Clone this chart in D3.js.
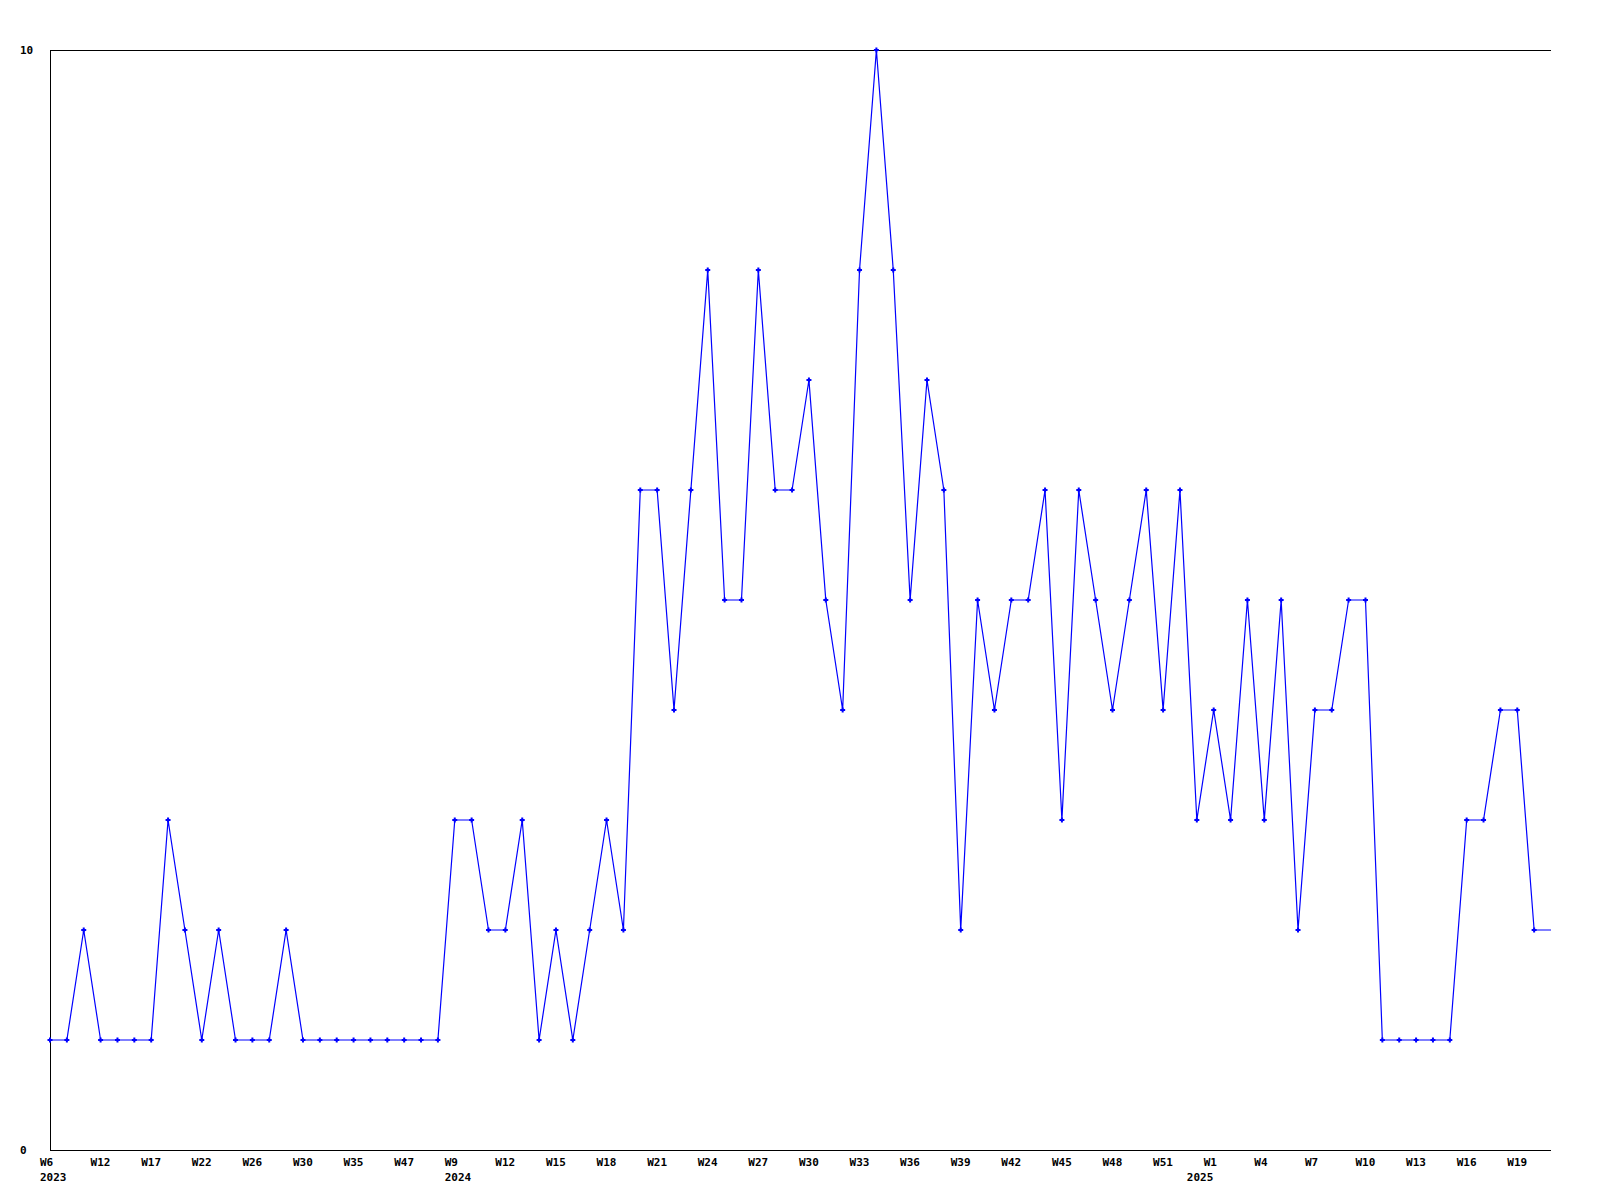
<!DOCTYPE html>
<html>
<head>
<meta charset="utf-8">
<script src="https://cdn.jsdelivr.net/npm/d3@7"></script>
<style>
  html, body { margin: 0; padding: 0; background: #fff; }
  svg text { font-family: "DejaVu Sans Mono", "Liberation Mono", monospace; font-weight: bold; font-size: 11px; fill: #000; }
</style>
</head>
<body>
<svg id="chart" width="1600" height="1200"></svg>
<script>
// Weekly values, one per data point (index 0..89)
const values = [
  1, 1, 2, 1, 1, 1, 1, 3, 2, 1,
  2, 1, 1, 1, 2, 1, 1, 1, 1, 1,
  1, 1, 1, 1, 3, 3, 2, 2, 3, 1,
  2, 1, 2, 3, 2, 6, 6, 4, 6, 8,
  5, 5, 8, 6, 6, 7, 5, 4, 8, 10,
  8, 5, 7, 6, 2, 5, 4, 5, 5, 6,
  3, 6, 5, 4, 5, 6, 4, 6, 3, 4,
  3, 5, 3, 5, 2, 4, 4, 5, 5, 1,
  1, 1, 1, 1, 3, 3, 4, 4, 2, 2
];
// Week tick labels (index of data point, label)
const weekTickIndex = [0, 3, 6, 9, 12, 15, 18, 21, 24, 27, 30, 33, 36, 39, 42, 45, 48, 51, 54, 57, 60, 63, 66, 69, 72, 75, 78, 81, 84, 87];
const weekTickLabels = ["W6", "W12", "W17", "W22", "W26", "W30", "W35", "W47", "W9", "W12", "W15", "W18", "W21", "W24", "W27", "W30", "W33", "W36", "W39", "W42", "W45", "W48", "W51", "W1", "W4", "W7", "W10", "W13", "W16", "W19"];
// Year labels at first data point of each year
const yearIndex = [0, 24, 68];
const yearLabels = ["2023", "2024", "2025"];
const yTicks = [0, 10];

(function () {
const svg = d3.select("#chart");
const mLeft = 50, mRight = 1551, mTop = 50, mBottom = 1150;

const x = d3.scaleLinear().domain([0, values.length - 1]).range([mLeft, mRight]);
const y = d3.scaleLinear().domain([0, 10]).range([mBottom, mTop]);

// frame: left axis, bottom axis, top line
const g = svg.append("g").attr("shape-rendering", "crispEdges");
g.append("line").attr("x1", mLeft + 0.5).attr("x2", mLeft + 0.5).attr("y1", y(10)).attr("y2", y(0)).attr("stroke", "#000");
g.append("line").attr("x1", mLeft).attr("x2", mRight).attr("y1", y(0) + 0.5).attr("y2", y(0) + 0.5).attr("stroke", "#000");
g.append("line").attr("x1", mLeft).attr("x2", mRight).attr("y1", y(10) + 0.5).attr("y2", y(10) + 0.5).attr("stroke", "#000");

// y labels
svg.selectAll("text.ylab").data(yTicks).join("text")
  .attr("class", "ylab")
  .attr("x", 20)
  .attr("y", d => y(d) + 4)
  .text(d => d);

// week labels
svg.selectAll("text.wlab").data(weekTickIndex).join("text")
  .attr("class", "wlab")
  .attr("x", d => x(d) - 10)
  .attr("y", 1166)
  .text((d, i) => weekTickLabels[i]);

// year labels
svg.selectAll("text.yrlab").data(yearIndex).join("text")
  .attr("class", "yrlab")
  .attr("x", d => x(d) - 10)
  .attr("y", 1181)
  .text((d, i) => yearLabels[i]);

// line
const line = d3.line().x((d, i) => x(i)).y(d => y(d));
svg.append("path")
  .datum(values)
  .attr("d", line)
  .attr("fill", "none")
  .attr("stroke", "#0000ff")
  .attr("stroke-width", 1.2);

// markers (plus signs)
const pts = values.map((v, i) => ({ i, v })).filter(d => d.i < values.length - 1);
svg.selectAll("path.mk").data(pts).join("path")
  .attr("class", "mk")
  .attr("d", d => {
    const cx = x(d.i), cy = y(d.v);
    return `M${cx - 2.5},${cy}H${cx + 2.5}M${cx},${cy - 2.5}V${cy + 2.5}`;
  })
  .attr("stroke", "#0000ff")
  .attr("stroke-width", 2)
  .attr("fill", "none");
})();
</script>
</body>
</html>
